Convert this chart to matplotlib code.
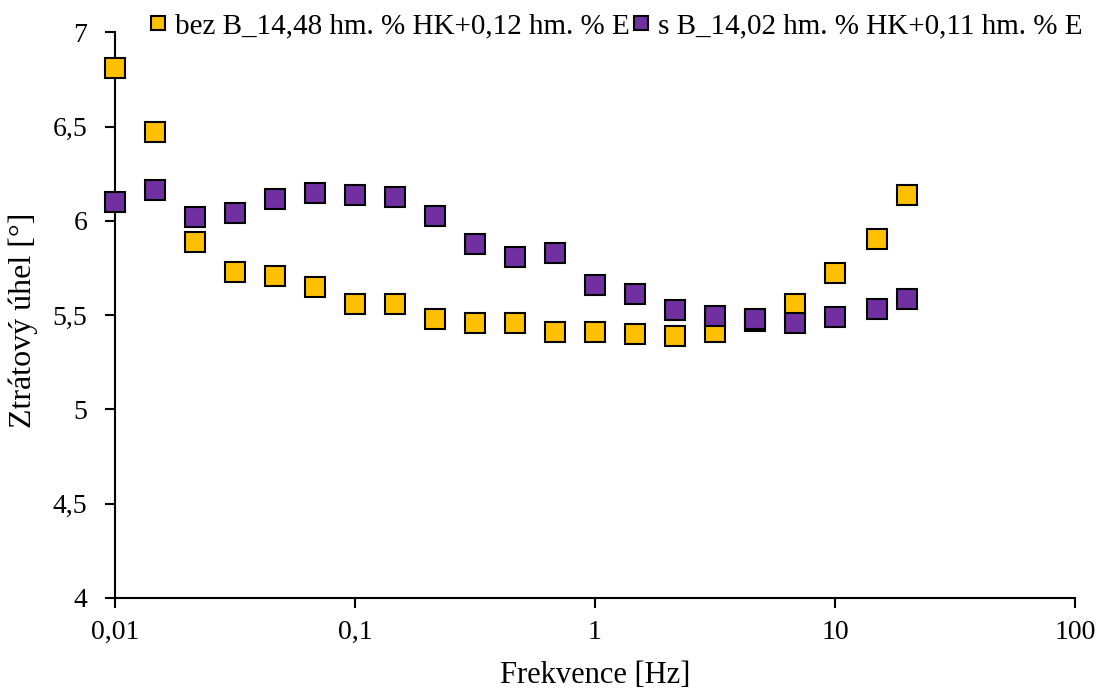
import matplotlib.pyplot as plt
from matplotlib.ticker import FuncFormatter, FixedLocator, NullLocator

plt.rcParams['font.family'] = ['Liberation Serif', 'DejaVu Serif']

# frequency [Hz]
freq = [0.01, 0.0147, 0.0215, 0.0316, 0.0464, 0.0681, 0.1, 0.147, 0.215,
        0.316, 0.464, 0.681, 1, 1.47, 2.15, 3.16, 4.64, 6.81, 10, 15, 20]

# loss angle [deg]
bez_b = [6.81, 6.47, 5.89, 5.73, 5.71, 5.65, 5.56, 5.56, 5.48, 5.46, 5.46,
         5.41, 5.41, 5.40, 5.39, 5.41, 5.47, 5.56, 5.725, 5.905, 6.14]
s_b = [6.10, 6.165, 6.02, 6.04, 6.115, 6.148, 6.135, 6.127, 6.024, 5.875,
       5.81, 5.827, 5.66, 5.61, 5.525, 5.497, 5.48, 5.46, 5.49, 5.535, 5.588]

labels = ["bez B_14,48 hm. % HK+0,12 hm. % E",
          "s B_14,02 hm. % HK+0,11 hm. % E"]
colors = ["#FFC000", "#7030A0"]

fig = plt.figure(figsize=(11.07, 6.88), dpi=100)
ax = fig.add_axes([0.1039, 0.1312, 0.8671, 0.8216])

for ys, lab, c in zip([bez_b, s_b], labels, colors):
    ax.plot(freq, ys, linestyle="none", marker="s", markersize=15,
            markerfacecolor=c, markeredgecolor="black", markeredgewidth=1.5,
            label=lab, clip_on=False, zorder=3)

ax.set_xscale("log")
ax.set_xlim(0.01, 100)
ax.set_ylim(4, 7)

ax.xaxis.set_major_locator(FixedLocator([0.01, 0.1, 1, 10, 100]))
ax.xaxis.set_minor_locator(NullLocator())
ax.xaxis.set_major_formatter(FuncFormatter(lambda v, p: f"{v:g}".replace(".", ",")))
ax.set_yticks([4, 4.5, 5, 5.5, 6, 6.5, 7])
ax.yaxis.set_major_formatter(FuncFormatter(lambda v, p: f"{v:g}".replace(".", ",")))

for side in ["top", "right"]:
    ax.spines[side].set_visible(False)
for side in ["left", "bottom"]:
    ax.spines[side].set_linewidth(1.5)
ax.tick_params(axis="both", direction="out", length=7, width=1.5,
               labelsize=20)
ax.tick_params(axis="y", pad=13)
ax.tick_params(axis="x", pad=9)

ax.set_xlabel("Frekvence [Hz]", fontsize=22)
ax.set_ylabel("Ztrátový úhel [°]", fontsize=23)
ax.xaxis.set_label_coords(0.5, -0.112)
ax.yaxis.set_label_coords(-0.08, 0.49)

ax.legend(loc="center left", bbox_to_anchor=(0.124, 0.962),
          bbox_transform=fig.transFigure, ncol=2, frameon=False,
          fontsize=21, handlelength=0.65, handletextpad=0.25,
          columnspacing=0.05, markerscale=0.7, borderaxespad=0)

fig.savefig("out.png", dpi=100)
